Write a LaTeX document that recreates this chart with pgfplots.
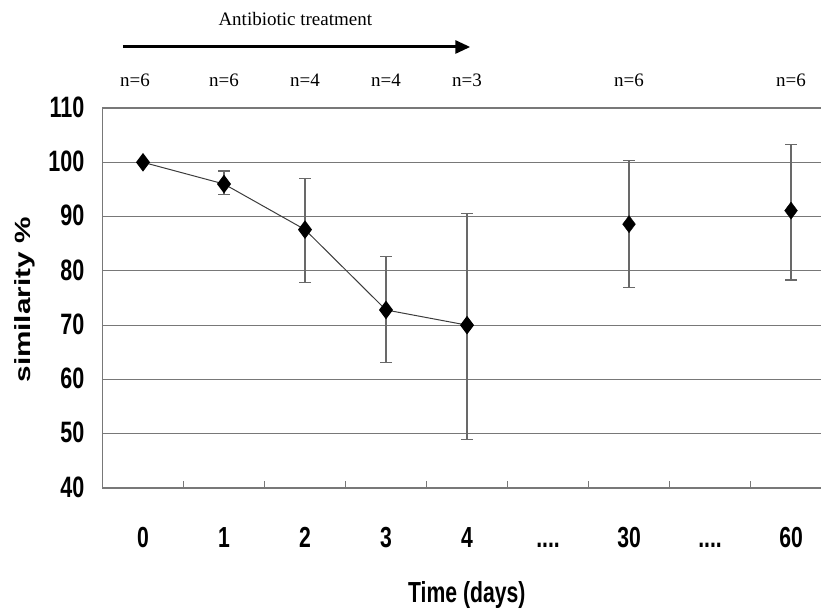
\documentclass[border=0pt]{standalone}
\usepackage{pgfplots}
\pgfplotsset{compat=1.18}
\usepackage{pgfplotstable}
\usetikzlibrary{arrows.meta}
\usepackage{fontspec}
\setmainfont{Liberation Serif}
\newfontfamily\nb[FakeStretch=0.73]{Liberation Sans}
\newfontfamily\wb[FakeStretch=1.35]{Liberation Sans}
\definecolor{gridgray}{RGB}{120,120,120}
\definecolor{errgray}{RGB}{105,105,105}
\definecolor{linegray}{RGB}{60,60,60}
\newcommand\fourdots{....}
\tikzset{nlab/.style={anchor=base, inner sep=0pt, font=\fontsize{19}{21}\selectfont}}

\pgfplotstableread{
x y ep em
0 100.0 0 0
1 96.0 2.4 2.0
2 87.6 9.4 9.8
3 72.8 9.9 9.7
4 70.0 20.6 21.1
}\early
\pgfplotstableread{
x y ep em
6 88.6 11.8 11.7
8 91.1 12.2 12.8
}\late

\begin{document}
\begin{tikzpicture}
\useasboundingbox (-102.5pt,-123pt) rectangle (718.5pt,488pt);
\begin{axis}[
  at={(0pt,0pt)}, anchor=south west,
  scale only axis, width=718.5pt, height=380pt,
  xmin=-0.5, xmax=8.37, ymin=40, ymax=110,
  clip=false,
  axis lines*=left,
  axis line style={-, draw=gridgray, line width=1.2pt},
  ytick={40,50,...,110},
  ymajorgrids,
  major grid style={gridgray, line width=1.2pt},
  xtick={0,...,8},
  xticklabels={0,1,2,3,4,\fourdots,30,\fourdots,60},
  minor xtick={0.5,1.5,...,7.5},
  major tick length=0pt, minor tick length=7pt, tick align=inside,
  minor tick style={gridgray, line width=1pt},
  /pgf/number format/assume math mode=true,
  xticklabel style={font=\nb\bfseries\fontsize{29}{31}\selectfont, anchor=base, inner sep=0pt, yshift=-59pt},
  yticklabel style={font=\nb\bfseries\fontsize{29.5}{31}\selectfont, anchor=east, inner sep=0pt, xshift=-18pt, yshift=1pt},
  xlabel={Time (days)},
  xlabel style={at={(axis description cs:0.507,-0.3026)}, anchor=base, inner sep=0pt, font=\nb\bfseries\fontsize{29}{31}\selectfont},
  ylabel={similarity \%},
  ylabel style={at={(axis description cs:-0.1079,0.495)}, anchor=center, inner sep=0pt, font=\wb\bfseries\fontsize{22}{24}\selectfont},
  error bars/error bar style={errgray, line width=1.2pt},
  error bars/error mark options={rotate=90, mark size=6pt, errgray, line width=1.2pt},
]
\addplot[linegray, line width=1pt, mark=diamond*, mark size=8.5pt,
  mark options={black, fill=black},
  error bars/.cd, y dir=both, y explicit]
  table[x=x, y=y, y error plus=ep, y error minus=em] {\early};
\addplot[only marks, mark=diamond*, mark size=8.5pt,
  mark options={black, fill=black},
  error bars/.cd, y dir=both, y explicit]
  table[x=x, y=y, y error plus=ep, y error minus=em] {\late};

\draw[black, line width=3pt, -{Triangle[length=15pt,width=13pt]}]
  (axis cs:-0.247,121.24) -- (axis cs:4.04,121.24);
\node[nlab] at (axis cs:1.88,125.29) {Antibiotic treatment};
\node[nlab] at (axis cs:-0.1,113.87) {n=6};
\node[nlab] at (axis cs:1,113.87) {n=6};
\node[nlab] at (axis cs:2,113.87) {n=4};
\node[nlab] at (axis cs:3,113.87) {n=4};
\node[nlab] at (axis cs:4,113.87) {n=3};
\node[nlab] at (axis cs:6,113.87) {n=6};
\node[nlab] at (axis cs:8,113.87) {n=6};
\end{axis}
\end{tikzpicture}
\end{document}
